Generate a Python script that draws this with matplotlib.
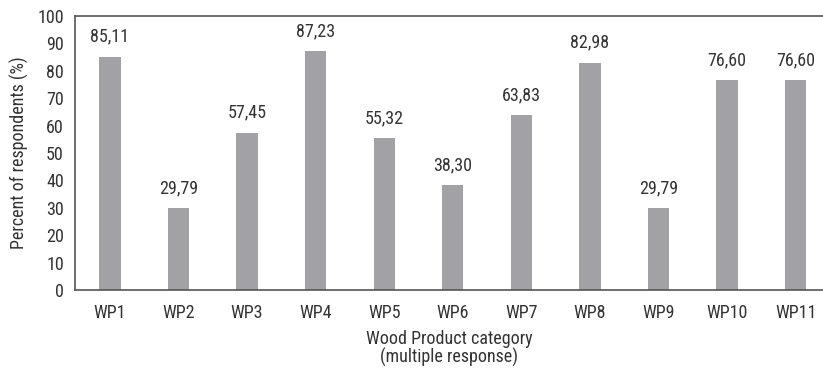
import matplotlib
matplotlib.use("Agg")
import matplotlib.pyplot as plt

categories = ["WP1", "WP2", "WP3", "WP4", "WP5", "WP6", "WP7", "WP8", "WP9", "WP10", "WP11"]
values = [85.11, 29.79, 57.45, 87.23, 55.32, 38.30, 63.83, 82.98, 29.79, 76.60, 76.60]
labels = ["85,11", "29,79", "57,45", "87,23", "55,32", "38,30", "63,83", "82,98", "29,79", "76,60", "76,60"]
yticks = [0, 10, 20, 30, 40, 50, 60, 70, 80, 90, 100]

plt.rcParams["font.family"] = ["Roboto Condensed", "Liberation Sans", "DejaVu Sans"]

W, H = 823, 374
fig = plt.figure(figsize=(W / 100, H / 100), dpi=100)
ax = fig.add_axes([75 / W, 1 - 290 / H, (823 - 75) / W, (290 - 16) / H])

x = list(range(len(categories)))
ax.bar(x, values, width=0.31, color="#a2a2a6")
for xi, v, lab in zip(x, values, labels):
    ax.text(xi, v + 4, lab, ha="center", va="bottom", fontsize=13, color="#333333")

ax.set_xlim(-0.51, 10.4)
ax.set_ylim(0, 100)
ax.set_yticks(yticks)
ax.set_xticks(x)
ax.set_xticklabels(categories)
ax.tick_params(axis="both", length=0, labelsize=13, colors="#333333")
ax.tick_params(axis="x", pad=10)
ax.tick_params(axis="y", pad=8)
for s in ["left", "bottom", "top"]:
    ax.spines[s].set_color("#555555")
    ax.spines[s].set_linewidth(1.2)
ax.spines["right"].set_visible(False)
ax.set_ylabel("Percent of respondents (%)", fontsize=13, color="#333333", labelpad=6)
ax.set_xlabel("Wood Product category\n(multiple response)", fontsize=13, color="#333333", labelpad=6, linespacing=1.0)

fig.savefig("out.png", dpi=100)
